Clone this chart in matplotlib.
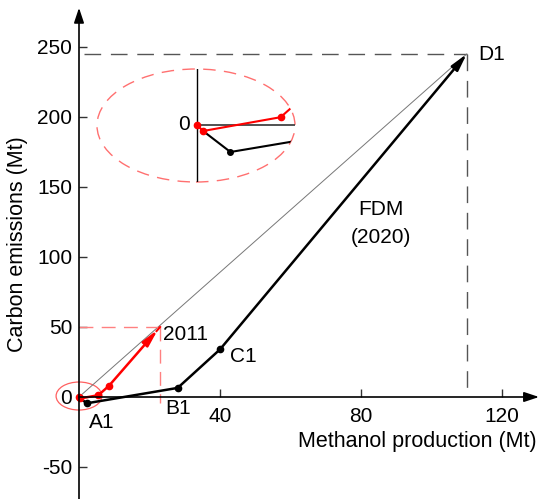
import matplotlib
matplotlib.use("Agg")
import matplotlib.pyplot as plt
from matplotlib.patches import Ellipse

plt.rcParams['font.family'] = ['Liberation Sans', 'DejaVu Sans']
plt.rcParams['axes.unicode_minus'] = False

# Data
black_x = [0.4, 2.2, 28, 40, 110]
black_y = [-1.0, -4.5, 6.5, 34, 245]
black_labels = ['A1', 'B1', 'C1', 'D1']
red_x = [0, 0.4, 5.5, 8.5, 23]
red_y = [0, -1.0, 1.3, 8, 50]
red_label = '2011'
x_ticks = [40, 80, 120]
y_ticks = [-50, 0, 50, 100, 150, 200, 250]

W, H = 540, 499
fig = plt.figure(figsize=(W / 100, H / 100), dpi=100)
ax = fig.add_axes([0, 0, 1, 1])
sx, sy = 3.525, 1.4
x0p, y0p = 79, 397
ax.set_xlim(-x0p / sx, (W - x0p) / sx)
ax.set_ylim((y0p - H) / sy, y0p / sy)

for s in ['top', 'right']:
    ax.spines[s].set_visible(False)
ax.spines['left'].set_position(('data', 0))
ax.spines['bottom'].set_position(('data', 0))
ax.spines['left'].set_visible(False)
ax.spines['bottom'].set_visible(False)

# axes with arrows
ax.annotate('', xy=(0, 278), xytext=(0, (y0p - H) / sy),
            arrowprops=dict(arrowstyle='-|>,head_length=0.9,head_width=0.3', color='black', lw=1.2,
                            shrinkA=0, shrinkB=0))
ax.annotate('', xy=(130.5, 0), xytext=(0, 0),
            arrowprops=dict(arrowstyle='-|>,head_length=0.9,head_width=0.3', color='black', lw=1.2,
                            shrinkA=0, shrinkB=0))

fs = 15
ax.set_xticks(x_ticks)
ax.set_yticks(y_ticks)
ax.tick_params(axis='both', direction='in', length=6, width=1, labelsize=fs, color='#333333')
ax.tick_params(axis='x', pad=7)
ax.tick_params(axis='y', pad=5)

# reference lines
D = (black_x[-1], black_y[-1])
ax.plot([1.5, D[0]], [D[1], D[1]], color='#555555', lw=1.0, dashes=(12, 7))
ax.plot([D[0], D[0]], [D[1], 2], color='#555555', lw=1.0, dashes=(12, 7))
ax.plot([0, D[0]], [0, D[1]], color='#777777', lw=0.7)
R = (red_x[-1], red_y[-1])
ax.plot([0, R[0]], [R[1], R[1]], color='#ff8080', lw=1.0, dashes=(10, 6))
ax.plot([R[0], R[0]], [R[1], -4], color='#ff8080', lw=1.0, dashes=(10, 6))

# black path
ax.plot(black_x[:-1], black_y[:-1], color='black', lw=1.8)
ax.plot(black_x[1:4], black_y[1:4], 'o', color='black', ms=4.5)
ax.annotate('', xy=D, xytext=(black_x[-2], black_y[-2]),
            arrowprops=dict(arrowstyle='-|>,head_length=1.0,head_width=0.25', color='black', lw=1.8,
                            shrinkA=0, shrinkB=0))
# red path
ax.plot(red_x[:-1], red_y[:-1], color='red', lw=1.8)
ax.plot(red_x[:-1], red_y[:-1], 'o', color='red', ms=4.5)
ax.annotate('', xy=(R[0] - 0.6, R[1] - 1.8), xytext=(red_x[-2], red_y[-2]),
            arrowprops=dict(arrowstyle='-|>,head_length=1.0,head_width=0.22', color='red', lw=1.8,
                            shrinkA=0, shrinkB=0))
ax.plot([R[0] - 1.0, R[0]], [R[1] - 2.9, R[1]], color='red', lw=1.5)

# small ellipse at origin
ax.add_patch(Ellipse((0, 0.7), 13, 20, fill=False, ec='#ff6060', lw=0.9))

# labels
ax.text(113.2, 244.3, 'D1', fontsize=fs, ha='left', va='center')
ax.text(42.8, 28.6, 'C1', fontsize=fs, ha='left', va='center')
ax.text(24.4, -7.9, 'B1', fontsize=fs, ha='left', va='center')
ax.text(2.8, -17.9, 'A1', fontsize=fs, ha='left', va='center')
ax.text(23.8, 45, red_label, fontsize=fs, ha='left', va='center')
ax.text(85.7, 133.6, 'FDM', fontsize=fs, ha='center', va='center')
ax.text(85.7, 113.6, '(2020)', fontsize=fs, ha='center', va='center')

fig.text(417 / W, 1 - 442 / H, 'Methanol production (Mt)', fontsize=15.5, ha='center', va='center')
fig.text(18 / W, 1 - 244 / H, 'Carbon emissions (Mt)', fontsize=15.5, ha='center', va='center',
         rotation=90)

# inset
ixl, ixr, iyt, iyb = 97, 295, 69, 182
axi = fig.add_axes([ixl / W, 1 - iyb / H, (ixr - ixl) / W, (iyb - iyt) / H])
axi.set_axis_off()
isx, isy = 15.2, 6.0
axi.set_xlim(-(197 - ixl) / isx, (ixr - 197) / isx)
axi.set_ylim(-(iyb - 125) / isy, (125 - iyt) / isy)
ell = Ellipse((0.5, 0.5), 1, 1, transform=axi.transAxes, fill=False, ec='#ff7070', lw=1.0,
              linestyle=(0, (9, 6)), clip_on=False)
axi.add_patch(ell)
clip = Ellipse((0.5, 0.5), 1, 1, transform=axi.transAxes, fill=False, visible=False)
axi.add_patch(clip)
arts = []
arts += axi.plot([0, 0], [-20, 20], color='black', lw=1.0)
arts += axi.plot([0, 20], [0, 0], color='#333333', lw=1.2)
arts += axi.plot(black_x, black_y, color='black', lw=1.5)
arts += axi.plot(black_x[1:2], black_y[1:2], 'o', color='black', ms=4)
arts += axi.plot(red_x, red_y, color='red', lw=1.5)
arts += axi.plot(red_x[:3], red_y[:3], 'o', color='red', ms=4.5)
for a in arts:
    a.set_clip_path(clip)
axi.text(-0.5, 0, '0', fontsize=fs, ha='right', va='center')

fig.savefig('out.png', dpi=100)
